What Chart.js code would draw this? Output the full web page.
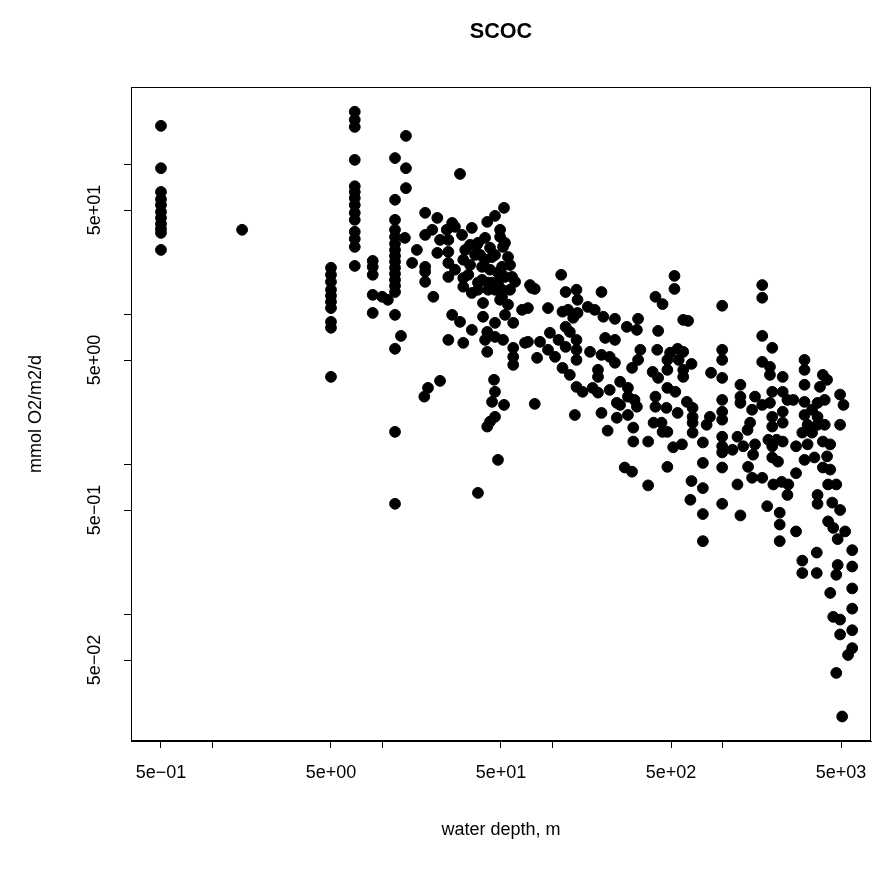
<!DOCTYPE html>
<html><head><meta charset="utf-8">
<script src="https://cdn.jsdelivr.net/npm/chart.js@4.4.0/dist/chart.umd.min.js"></script>
<style>html,body{margin:0;padding:0;background:#fff;}#wrap{width:882px;height:873px;}</style>
</head><body><div id="wrap"><canvas id="c" width="882" height="873"></canvas></div>
<script>
// water depth (m)
const depth = [
0.5,0.5,0.5,0.5,0.5,0.5,0.5,0.5,0.5,0.5,0.5,1.5,
5,5,5,5,5,5,5,5,5,5,
6.9,6.9,6.9,6.9,6.9,6.9,6.9,6.9,6.9,6.9,6.9,6.9,6.9,6.9,
8.8,8.8,8.8,8.8,8.8,10,10.8,
11.9,11.9,11.9,11.9,11.9,11.9,11.9,11.9,11.9,11.9,11.9,11.9,11.9,11.9,11.9,11.9,11.9,11.9,
12.9,13.8,13.8,13.8,13.6,16,15,
28.7,17.9,21.1,25.8,33.7,41.5,46.1,52.1,17.9,19.7,
29.5,24,26.8,49.4,21.1,17.9,17.9,17.9,24.5,24.5,
24.5,24.5,30,30,30,36,40.3,38.7,38.7,44.3,
49.4,51.4,55,48,52.8,44.3,50.7,58.1,42,36.6,
20,33.7,
36.6,52.8,46.1,50.7,36.6,42,48,60.5,76,50.7,
72,32.9,35.2,43.1,46.1,56.5,32.1,40.3,26.8,21.9,32.9,
30.8,37.7,43.1,56.5,49.4,
25.8,28.7,33.7,24.5,30,39.2,39.2,41.5,40.3,41.5,
46.1,51.4,55,52.8,59,59,59,59,66.5,69.2,
21.9,18.6,17.7,45.5,46.1,44.3,52.1,46.1,43.1,41.5,
48,36.6,46.1,
113,74.1,79,120,139,141,195,94.5,115,124,
133,141,162,178,200,234,120,127,97,72,
84.8,109,120,139,205,234,94.5,81.5,104,139,
139,167,195,218,234,186,186,115,127,139,
151,173,186,218,79,136,195,240,240,212,
524,524,405,446,590,630,275,320,315,420,
330,415,494,547,590,476,555,660,320,295,
390,420,476,590,590,860,251,279,279,476,
530,405,251,305,315,405,470,547,620,670,
670,279,395,440,446,476,670,670,300,300,
367,515,580,770,847,810,476,770,267,295,
367,660,770,650,770,770,
1720,1720,1000,1720,1970,1000,1000,1720,1910,2270,
1000,1280,1910,1970,1910,2270,2420,1560,1280,1280,
1000,1720,1500,2270,1970,1000,1000,1460,1970,2270,
1410,1000,1230,1870,2090,2270,1000,1150,1330,1560,
1970,1000,1520,1970,2130,1420,1000,1500,1720,2000,
2240,2420,1230,1000,1840,1280,2180,2180,2180,
3050,3050,3910,4140,3760,3050,2620,4940,5170,3050,
3640,4010,3050,3380,3640,3180,3640,4010,4940,2960,
3380,2720,3180,3910,4320,3050,3490,4140,2720,3910,4320,
2450,4200,4690,3640,3640,4440,4940,4200,4500,5290,
4780,2720,5820,3600,2960,2960,3600,4780,5820,4690,
4320,5820,5820,4500,4940,5820,4940,5820,5500,4690,5080
];
// SCOC (mmol O2/m2/d)
const scoc = [
182,95,66,59,54,48.6,44.3,40.4,37.4,35.2,27.1,36.9,
20.6,18.5,16.6,14.7,13.4,12.2,11.1,8.98,8.2,3.86,
226,200,179,108,72,66,60,54,47.9,43,35.8,32.1,28.4,21.2,
22.9,20.9,18.5,13.6,10.3,13.2,12.6,
111,58.5,43,36.9,33.1,29.8,27.1,24.7,22.6,20.6,18.8,17.1,15.6,14.2,10,5.94,1.66,0.55,
7.24,156,95,70,32.6,27.1,22.2,
87,47.9,44.3,41,38,41.7,45.7,51.7,34.1,36.9,
34.1,36.9,38.6,36.9,25.9,20.9,19.4,16.6,31.6,26.3,
22.2,17.9,23.3,17.6,15.4,29.3,32.6,20.9,17.1,24.3,
33.1,28.4,24.3,19.1,17.9,16.4,14.7,17.9,14.7,14.7,
13.2,14.0,
30.2,30.2,25.1,20.9,16.4,16.4,16.4,16.6,15.1,13.2,
11.1,21.5,25.1,20,14.7,14.7,18.5,23.3,20,31.6,29.3,
27.1,25.1,28,21.5,12.6,
10,8.98,7.94,6.81,6.51,12,9.71,7.7,6.81,5.67,
8.85,6.81,11.7,10,8.85,6.03,5.25,4.64,10.8,6.51,
3.63,3.26,2.85,3.69,3.07,2.63,2.51,2.09,1.94,1.8,
1.08,0.65,7.13,
18.5,15.8,14.9,14.2,14.7,12.6,14.2,11.1,10.5,10.8,
9.56,10.3,11.3,10.8,9.71,9.41,8.32,7.7,7.59,6.61,
6.61,6.81,6.12,6.81,7.02,6.81,5.85,5.17,5.25,5.85,
5.01,5.67,5.41,5.25,4.79,4.3,3.86,4.43,3.98,3.31,
3.07,3.26,3.03,3.16,2.55,2.15,2.22,2.59,2.06,1.69,
18.2,14.9,13.2,11.8,9.26,9.12,8.32,9.41,7.94,7.82,
5.85,5.85,5.59,5.94,5.67,5.01,5.01,4.71,5.01,4.43,
4.17,3.8,4.3,4.3,3.86,4.11,3.58,3.26,2.85,3.26,
3.07,2.85,2.51,2.71,2.44,2.44,2.4,2.22,2.63,2.4,
2.09,2.15,1.91,1.91,1.66,1.66,1.91,1.64,1.77,1.43,
1.43,1.31,1.37,1.41,2.09,1.85,0.97,1.03,0.96,0.9,
0.73,0.78,0.7,0.585,0.47,0.31,
15.8,13,11.5,7.24,6.03,5.85,5.01,4.86,4.5,3.86,
3.8,3.42,3.98,3.07,2.59,3.07,2.71,2.85,2.85,2.59,
2.71,2.51,2.33,2.26,2.09,2.26,2.0,1.91,1.8,1.91,
1.71,1.54,1.54,1.47,1.47,1.43,1.33,1.26,1.33,1.37,
1.33,1.21,1.17,1.12,1.05,0.97,0.96,0.82,0.82,0.74,
0.77,0.63,0.74,0.55,0.53,0.46,0.48,0.4,0.31,
5.01,4.3,3.98,3.69,3.31,3.42,2.71,2.94,2.51,2.63,
2.59,2.71,2.15,2.33,2.09,1.85,1.85,1.85,1.85,1.64,
1.64,1.33,1.37,1.43,1.37,1.08,1.12,1.14,0.88,0.96,0.93,
0.74,0.74,0.74,0.63,0.55,0.56,0.5,0.42,0.38,0.36,
0.32,0.36,0.27,0.26,0.23,0.19,0.19,0.215,0.21,0.185,
0.14,0.15,0.11,0.097,0.093,0.079,0.074,0.06,0.054,0.041,0.021
];
const xTickValues = [0.5,1,5,10,50,100,500,1000,5000];
const yTickValues = [0.05,0.1,0.5,1,5,10,50,100];
const xLabelValues = [0.5,5,50,500,5000];
const xLabelText = ['5e\u221201','5e+00','5e+01','5e+02','5e+03'];
const yLabelValues = [0.05,0.5,5,50];
const yLabelText = ['5e\u221202','5e\u221201','5e+00','5e+01'];
const titleText = 'SCOC';
const xTitle = 'water depth, m';
const yTitle = 'mmol O2/m2/d';

if (depth.length !== scoc.length) console.error('length mismatch', depth.length, scoc.length);
const points = depth.map((d,i)=>({x:d, y:scoc[i]}));
const FONT = '"Liberation Sans", Arial, Helvetica, sans-serif';

const decor = {
  id:'decor',
  afterDraw(chart){
    const {ctx, chartArea:a, scales:{x, y}} = chart;
    ctx.save();
    ctx.strokeStyle='#000'; ctx.lineWidth=1;
    ctx.strokeRect(Math.round(a.left)+0.5, Math.round(a.top)+0.5, Math.round(a.right-a.left)-1, Math.round(a.bottom-a.top)-1);
    ctx.fillStyle='#000';
    ctx.font='18px '+FONT;
    ctx.textAlign='center'; ctx.textBaseline='middle';
    xLabelValues.forEach((v,i)=>{ ctx.fillText(xLabelText[i], x.getPixelForValue(v), a.bottom+32); });
    yLabelValues.forEach((v,i)=>{
      ctx.save(); ctx.translate(a.left-36, y.getPixelForValue(v)); ctx.rotate(-Math.PI/2);
      ctx.fillText(yLabelText[i],0,0); ctx.restore();
    });
    ctx.fillText(xTitle, (a.left+a.right)/2, a.bottom+89);
    ctx.save(); ctx.translate(a.left-95,(a.top+a.bottom)/2); ctx.rotate(-Math.PI/2);
    ctx.fillText(yTitle,0,0); ctx.restore();
    ctx.font='bold 21.6px '+FONT;
    ctx.fillText(titleText, (a.left+a.right)/2, 32);
    ctx.restore();
  }
};

const axisCommon = {
  type:'logarithmic',
  bounds:'data',
  ticks:{display:false},
  grid:{display:true, drawOnChartArea:false, drawTicks:true, tickLength:7, color:'#000', lineWidth:1},
  border:{display:true, color:'#000', width:1},
};

new Chart(document.getElementById('c'), {
  type:'scatter',
  data:{datasets:[{data:points, backgroundColor:'#000', borderColor:'#000', pointRadius:5.4, pointBorderWidth:1, pointHoverRadius:5.4}]},
  options:{
    responsive:false, animation:false, devicePixelRatio:1,
    layout:{padding:{left:81, right:11, top:87, bottom:82}},
    plugins:{legend:{display:false}, tooltip:{enabled:false}},
    events:[],
    scales:{
      x:Object.assign({}, axisCommon, {min:0.3331, max:7506,
        afterBuildTicks:s=>{s.ticks = xTickValues.map(v=>({value:v}));},
        afterFit:s=>{s.height=50;}}),
      y:Object.assign({}, axisCommon, {min:0.01442, max:330.4,
        afterBuildTicks:s=>{s.ticks = yTickValues.map(v=>({value:v}));},
        afterFit:s=>{s.width=50;}})
    }
  },
  plugins:[decor]
});
</script></body></html>
